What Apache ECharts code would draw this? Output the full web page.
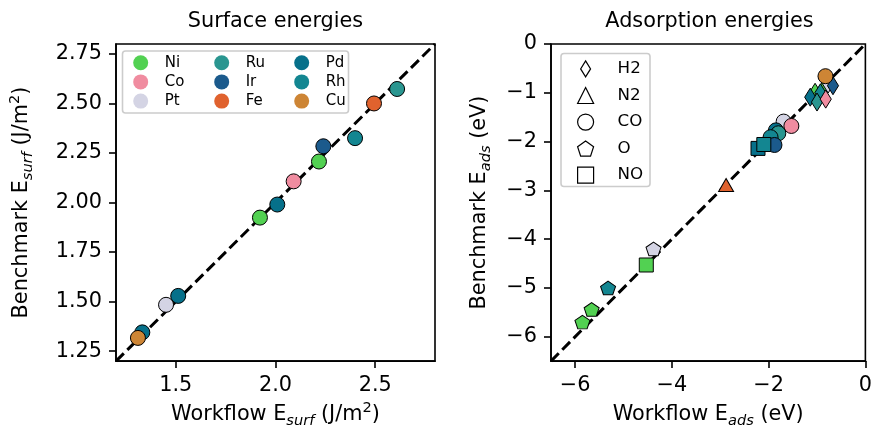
<!DOCTYPE html>
<html>
<head>
<meta charset="utf-8">
<script src="https://cdn.jsdelivr.net/npm/echarts@6/dist/echarts.min.js"></script>
<style>html,body{margin:0;padding:0;background:#fff}#c{width:875px;height:434px}</style>
</head>
<body>
<div id="c"></div>
<script>
// ---------- Surface energies (left) ----------
const surfMetals = ['Ni', 'Co', 'Pt', 'Ru', 'Ir', 'Fe', 'Pd', 'Rh', 'Cu'];
const surfPointMetal = ['Ru', 'Fe', 'Rh', 'Ir', 'Ni', 'Co', 'Pd', 'Ni', 'Pd', 'Pt', 'Pd', 'Cu'];
const surfWorkflow   = [2.61, 2.494, 2.399, 2.24, 2.218, 2.091, 2.009, 1.922, 1.512, 1.451, 1.332, 1.31];
const surfBenchmark  = [2.573, 2.50, 2.325, 2.284, 2.207, 2.107, 1.99, 1.924, 1.529, 1.484, 1.345, 1.317];
const surfXTicks = [1.5, 2.0, 2.5];
const surfYTicks = [1.25, 1.5, 1.75, 2.0, 2.25, 2.5, 2.75];

// ---------- Adsorption energies (right) ----------
const adsSpecies = ['H2', 'N2', 'CO', 'O', 'NO'];
const adsPointSpecies = ['H2', 'H2', 'H2', 'H2', 'H2', 'H2', 'H2', 'H2',
                         'N2',
                         'CO', 'CO', 'CO', 'CO', 'CO', 'CO', 'CO',
                         'O', 'O', 'O', 'O',
                         'NO', 'NO', 'NO'];
const adsPointMetal = ['Ni', 'Ni', 'Pt', 'Ir', 'Pd', 'Rh', 'Ru', 'Co',
                       'Fe',
                       'Cu', 'Pt', 'Co', 'Pd', 'Ru', 'Rh', 'Ir',
                       'Pt', 'Rh', 'Ni', 'Ni',
                       'Pd', 'Rh', 'Ni'];
const adsWorkflow  = [-1.04, -0.87, -0.77, -0.67, -1.14, -0.93, -1.0, -0.82,
                      -2.88,
                      -0.825, -1.69, -1.53, -1.85, -1.80, -1.96, -1.88,
                      -4.38, -5.32, -5.66, -5.85,
                      -2.22, -2.10, -4.53];
const adsBenchmark = [-0.99, -0.93, -0.82, -0.855, -1.09, -1.0, -1.19, -1.13,
                      -2.89,
                      -0.66, -1.59, -1.68, -1.77, -1.83, -1.91, -2.07,
                      -4.20, -5.0, -5.44, -5.70,
                      -2.14, -2.06, -4.53];
const adsXTicks = [-6, -4, -2, 0];
const adsYTicks = [-6, -5, -4, -3, -2, -1, 0];

// ---------- styles ----------
const metalColor = {
  Ni: '#52d152', Co: '#f08ca0', Pt: '#d4d4e4', Ru: '#2a9690', Ir: '#1b5a8c',
  Fe: '#e0622e', Pd: '#06708a', Rh: '#138691', Cu: '#cd8535'
};
const PENTAGON = 'path://M0,-1L0.951,-0.309L0.588,0.809L-0.588,0.809L-0.951,-0.309Z';
const THIN_DIAMOND = 'path://M0,-1L0.62,0L0,1L-0.62,0Z';
const speciesSymbol = {
  H2: [THIN_DIAMOND, 18], N2: ['triangle', [15, 13]], CO: ['circle', 15],
  O: [PENTAGON, [15, 14.3]], NO: ['rect', 14]
};
const FONT = 'DejaVu Sans';
const FS = 20.8;
const minus = v => String(v).replace('-', '\u2212');

const nameRich = {
  sub: { fontSize: 14.6, fontStyle: 'italic', verticalAlign: 'bottom', lineHeight: 14, fontFamily: FONT, color: '#000' },
  sup: { fontSize: 14.6, verticalAlign: 'top', lineHeight: 14, fontFamily: FONT, color: '#000' }
};
const nameStyle = { fontSize: FS, fontFamily: FONT, color: '#000', lineHeight: 28, rich: nameRich };

function axis(gridIndex, min, max, ticks, fmt, name, nameGap, isY) {
  return {
    type: 'value', gridIndex, min, max,
    name, nameLocation: 'middle', nameGap, nameRotate: isY ? 90 : 0,
    nameTextStyle: nameStyle,
    axisLine: { show: true, onZero: false, lineStyle: { color: '#000', width: 1.6 } },
    axisTick: { show: true, inside: false, length: 7, lineStyle: { color: '#000', width: 1.6 }, customValues: ticks },
    axisLabel: { show: true, margin: 14, fontSize: FS, fontFamily: FONT, color: '#000', customValues: ticks, formatter: fmt, showMinLabel: true, showMaxLabel: true },
    splitLine: { show: false }
  };
}

const series = [];
// diagonal lines
series.push({
  type: 'line', xAxisIndex: 0, yAxisIndex: 0, data: [[1.2, 1.2], [2.8, 2.8]],
  symbol: 'none', silent: true, z: 1, lineStyle: { color: '#000', width: 3, type: [11, 5] }
});
series.push({
  type: 'line', xAxisIndex: 1, yAxisIndex: 1, data: [[-6.5, -6.5], [0, 0]],
  symbol: 'none', silent: true, z: 1, lineStyle: { color: '#000', width: 3, type: [11, 5] }
});
// left scatter, one series per metal
surfMetals.forEach(m => {
  const data = [];
  surfPointMetal.forEach((pm, i) => { if (pm === m) data.push([surfWorkflow[i], surfBenchmark[i]]); });
  series.push({
    type: 'scatter', name: m, xAxisIndex: 0, yAxisIndex: 0, data,
    symbol: 'circle', symbolSize: 15, z: 2,
    itemStyle: { color: metalColor[m], borderColor: '#000', borderWidth: 1, opacity: 1 }
  });
});
// right scatter, one series per adsorbate
adsSpecies.forEach(s => {
  const data = [];
  adsPointSpecies.forEach((ps, i) => {
    if (ps === s) data.push({ value: [adsWorkflow[i], adsBenchmark[i]], itemStyle: { color: metalColor[adsPointMetal[i]] } });
  });
  series.push({
    type: 'scatter', name: s, xAxisIndex: 1, yAxisIndex: 1, data,
    symbol: speciesSymbol[s][0], symbolSize: speciesSymbol[s][1], symbolKeepAspect: true, z: 2,
    itemStyle: { color: '#ffffff', borderColor: '#000', borderWidth: 1, opacity: 1 }
  });
});

function metalLegend(names, iconCenter) {
  return {
    orient: 'vertical', left: iconCenter - 7.5, top: 55.2, padding: 0, itemGap: 4.2,
    itemWidth: 15, itemHeight: 15, data: names.map(n => ({ name: n, icon: 'circle' })),
    itemStyle: { borderWidth: 0 },
    formatter: n => '{t|' + n + '}',
    textStyle: { fontSize: 15, fontFamily: FONT, color: '#000', rich: { t: { fontSize: 15, fontFamily: FONT, color: '#000', padding: [0, 0, 0, 11.5] } } },
    selectedMode: false, z: 5
  };
}

const option = {
  animation: false,
  textStyle: { fontFamily: FONT },
  grid: [
    { left: 116, top: 44, width: 319, height: 320, show: true, borderColor: '#000', borderWidth: 1.6, backgroundColor: 'transparent' },
    { left: 551, top: 44, width: 317, height: 319, show: true, borderColor: '#000', borderWidth: 1.6, backgroundColor: 'transparent' }
  ],
  xAxis: [
    axis(0, 1.2, 2.8, surfXTicks, v => v.toFixed(1), 'Workflow E{sub|surf} (J/m{sup|2})', 36, false),
    axis(1, -6.5, 0, adsXTicks, minus, 'Workflow E{sub|ads} (eV)', 36, false)
  ],
  yAxis: [
    axis(0, 1.2, 2.8, surfYTicks, v => v.toFixed(2), 'Benchmark E{sub|surf} (J/m{sup|2})', 80, true),
    axis(1, -6.5, 0, adsYTicks, minus, 'Benchmark E{sub|ads} (eV)', 57, true)
  ],
  legend: [
    metalLegend(['Ni', 'Co', 'Pt'], 140.7),
    metalLegend(['Ru', 'Ir', 'Fe'], 221.7),
    metalLegend(['Pd', 'Rh', 'Cu'], 301.7),
    {
      orient: 'vertical', left: 577, top: 60.3, padding: 0, itemGap: 9.4,
      itemWidth: 16, itemHeight: 16, data: adsSpecies,
      itemStyle: { color: '#fff', borderColor: '#000', borderWidth: 1.2 },
      formatter: n => '{t|' + n + '}',
      textStyle: { fontSize: 16.7, fontFamily: FONT, color: '#000', rich: { t: { fontSize: 16.7, fontFamily: FONT, color: '#000', padding: [0, 0, 0, 19] } } },
      selectedMode: false, z: 5
    }
  ],
  graphic: [
    { type: 'rect', shape: { x: 122.5, y: 51, width: 226, height: 62, r: 3 }, style: { fill: 'rgba(255,255,255,0.8)', stroke: '#cccccc', lineWidth: 1.6 }, z: 3, silent: true },
    { type: 'rect', shape: { x: 561, y: 53.5, width: 89, height: 133, r: 3 }, style: { fill: 'rgba(255,255,255,0.8)', stroke: '#cccccc', lineWidth: 1.6 }, z: 3, silent: true },
    { type: 'text', x: 275.5, y: 22, style: { text: 'Surface energies', fontSize: FS, fontFamily: FONT, fill: '#000', align: 'center', verticalAlign: 'middle' }, z: 5 },
    { type: 'text', x: 709.5, y: 22, style: { text: 'Adsorption energies', fontSize: FS, fontFamily: FONT, fill: '#000', align: 'center', verticalAlign: 'middle' }, z: 5 }
  ],
  series
};

const chart = echarts.init(document.getElementById('c'), null, { renderer: 'canvas' });
chart.setOption(option);
</script>
</body>
</html>
